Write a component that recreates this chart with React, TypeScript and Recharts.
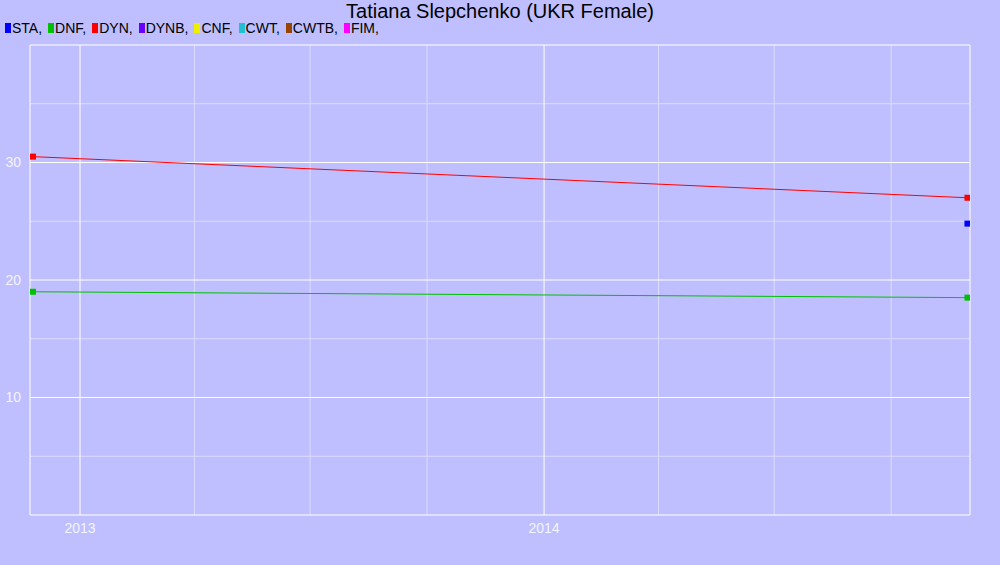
import { ComposedChart, Line, XAxis, YAxis, ReferenceLine } from 'recharts';

const title = 'Tatiana Slepchenko (UKR Female)';

const legendItems = [
  { name: 'STA', color: '#0000ff' },
  { name: 'DNF', color: '#00c000' },
  { name: 'DYN', color: '#ff0000' },
  { name: 'DYNB', color: '#6600ff' },
  { name: 'CNF', color: '#eeee00' },
  { name: 'CWT', color: '#20c0d0' },
  { name: 'CWTB', color: '#994400' },
  { name: 'FIM', color: '#ff00ff' },
];

const staData = [{ date: Date.UTC(2014, 10, 30), value: 24.8 }];
const dnfData = [
  { date: Date.UTC(2012, 10, 25), value: 19 },
  { date: Date.UTC(2014, 10, 30), value: 18.5 },
];
const dynData = [
  { date: Date.UTC(2012, 10, 25), value: 30.5 },
  { date: Date.UTC(2014, 10, 30), value: 27 },
];

const yearTicks = [Date.UTC(2013, 0, 1), Date.UTC(2014, 0, 1)];
const quarterTicks = [
  Date.UTC(2013, 3, 1),
  Date.UTC(2013, 6, 1),
  Date.UTC(2013, 9, 1),
  Date.UTC(2014, 3, 1),
  Date.UTC(2014, 6, 1),
  Date.UTC(2014, 9, 1),
];
const majorY = [10, 20, 30, 40];
const minorY = [5, 15, 25, 35];
const yTicks = [10, 20, 30];

const xDomain = [Date.UTC(2012, 10, 22, 16), Date.UTC(2014, 11, 2)];
const bg = '#bfbfff';
const minorGrid = '#dcdcff';
const tickStyle = { fill: '#f4f4ff', fontSize: 14, fontFamily: 'Liberation Sans, Arial, sans-serif' };

const Square = (color: string) => (props: any) => {
  const { cx, cy } = props;
  if (cx == null || cy == null) return null;
  return <rect x={cx - 3} y={cy - 3} width={6} height={6} fill={color} />;
};

export default function App() {
  return (
    <div
      style={{
        position: 'absolute',
        left: 0,
        top: 0,
        width: 1000,
        height: 565,
        background: bg,
        fontFamily: 'Liberation Sans, Arial, sans-serif',
      }}
    >
      <div style={{ position: 'absolute', top: 1, width: 1000, textAlign: 'center', fontSize: 20, lineHeight: '20px' }}>
        {title}
      </div>
      <div style={{ position: 'absolute', top: 21, left: 5, display: 'flex', fontSize: 14, lineHeight: '14px' }}>
        {legendItems.map((it) => (
          <span key={it.name} style={{ display: 'flex', alignItems: 'center', marginRight: 6 }}>
            <span style={{ display: 'inline-block', width: 6, height: 10, background: it.color, marginRight: 1 }} />
            {it.name},
          </span>
        ))}
      </div>
      <ComposedChart width={1000} height={565} margin={{ top: 45, right: 0, bottom: 0, left: 0 }}>
        <XAxis
          type="number"
          dataKey="date"
          domain={xDomain}
          allowDataOverflow
          ticks={yearTicks}
          tickFormatter={(v: number) => String(new Date(v).getUTCFullYear())}
          tick={tickStyle}
          tickLine={false}
          axisLine={{ stroke: '#ffffff' }}
          height={50}
          tickMargin={2}
        />
        <YAxis
          yAxisId="left"
          domain={[0, 40]}
          ticks={yTicks}
          tick={tickStyle}
          tickLine={false}
          axisLine={{ stroke: '#ffffff' }}
          width={30}
          tickMargin={3}
        />
        <YAxis
          yAxisId="right"
          orientation="right"
          domain={[0, 40]}
          ticks={yTicks}
          tick={{ ...tickStyle, textAnchor: 'start' }}
          tickLine={false}
          axisLine={{ stroke: '#ffffff' }}
          width={30}
          tickMargin={3}
        />
        {quarterTicks.map((d) => (
          <ReferenceLine key={'q' + d} yAxisId="left" x={d} stroke={minorGrid} strokeWidth={1} />
        ))}
        {minorY.map((v) => (
          <ReferenceLine key={'m' + v} yAxisId="left" y={v} stroke={minorGrid} strokeWidth={1} />
        ))}
        {yearTicks.map((d) => (
          <ReferenceLine key={'y' + d} yAxisId="left" x={d} stroke="#ffffff" strokeWidth={1} />
        ))}
        {majorY.map((v) => (
          <ReferenceLine key={'M' + v} yAxisId="left" y={v} stroke="#ffffff" strokeWidth={1} />
        ))}
        <Line
          yAxisId="left"
          data={dynData}
          dataKey="value"
          stroke="#ff0000"
          strokeWidth={1}
          dot={Square('#ff0000')}
          activeDot={false}
          isAnimationActive={false}
        />
        <Line
          yAxisId="left"
          data={dnfData}
          dataKey="value"
          stroke="#00c000"
          strokeWidth={1}
          dot={Square('#00c000')}
          activeDot={false}
          isAnimationActive={false}
        />
        <Line
          yAxisId="left"
          data={staData}
          dataKey="value"
          stroke="#0000ff"
          strokeWidth={1}
          dot={Square('#0000ff')}
          activeDot={false}
          isAnimationActive={false}
        />
      </ComposedChart>
    </div>
  );
}
